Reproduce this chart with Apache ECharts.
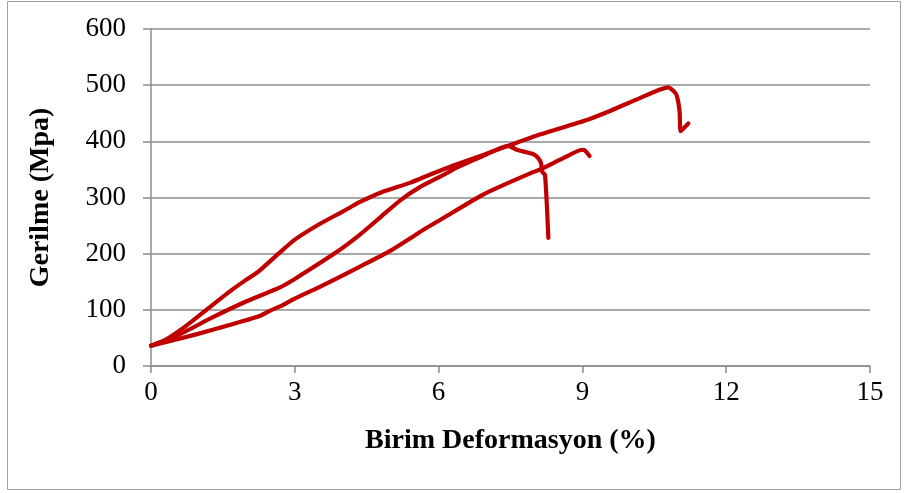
<!DOCTYPE html>
<html><head><meta charset="utf-8">
<script src="https://cdn.jsdelivr.net/npm/echarts@6/dist/echarts.min.js"></script>
<style>html,body{margin:0;padding:0;background:#fff}#c{width:904px;height:493px}</style>
</head><body><div id="c"></div>
<script>
const xAxisTitle = 'Birim Deformasyon (%)';
const yAxisTitle = 'Gerilme (Mpa)';
const xTicks = [0, 3, 6, 9, 12, 15];
const yTicks = [0, 100, 200, 300, 400, 500, 600];

const specimen1 = [[0,36],[0.29,46],[0.71,70],[1.2,103],[1.68,135],[1.96,152],[2.24,168],[2.66,200],[3.0,225],[3.5,252],[4.0,275],[4.36,292],[4.8,309],[5.4,326],[5.8,340],[6.31,357],[6.9,375],[7.42,391],[8.11,412],[9.09,438],[9.6,455],[10.2,477],[10.79,496],[10.95,485],[11.0,470],[11.03,450],[11.05,418],[11.21,432]];
const specimen2 = [[0,36],[0.57,55],[1.27,86],[1.96,114],[2.69,140],[3.0,155],[3.84,201],[4.36,234],[4.8,266],[5.2,295],[5.6,318],[6.03,337],[6.4,354],[6.9,373],[7.45,392],[7.63,385],[7.98,377],[8.08,370],[8.14,360],[8.16,346],[8.22,340],[8.29,228]];
const specimen3 = [[0,36],[0.57,48],[1.27,64],[2.24,88],[2.5,99],[2.69,106],[3.0,120],[3.5,140],[4.36,177],[4.99,205],[5.75,246],[6.03,260],[6.86,302],[7.14,314],[7.91,343],[8.12,350],[8.6,370],[8.99,385],[9.05,384],[9.15,374]];

const red = '#C00000';
const gray = '#8C8C8C';
const font = '"Liberation Serif", "Times New Roman", serif';

function mk(data){
  return {type:'line', data:data, symbol:'none', smooth:0.2, animation:false,
    lineStyle:{color:red, width:4.2, cap:'round', join:'round'}};
}

const chart = echarts.init(document.getElementById('c'), null, {renderer:'canvas'});
chart.setOption({
  animation:false,
  grid:{left:151, right:34, top:29, bottom:127},
  graphic:[{type:'rect', shape:{x:7.5, y:1.5, width:893, height:488}, style:{fill:'none', stroke:'#A0A0A0', lineWidth:1}, z:-1}],
  xAxis:{type:'value', min:xTicks[0], max:xTicks[xTicks.length-1], interval:3,
    name:xAxisTitle, nameLocation:'middle', nameGap:61,
    nameTextStyle:{fontFamily:font, fontWeight:'bold', fontSize:28, color:'#000'},
    axisLine:{lineStyle:{color:gray, width:1.5}},
    axisTick:{show:true, length:7, lineStyle:{color:gray, width:1.5}},
    axisLabel:{fontFamily:font, fontSize:27, color:'#000', margin:13},
    splitLine:{show:false}},
  yAxis:{type:'value', min:yTicks[0], max:yTicks[yTicks.length-1], interval:100,
    name:yAxisTitle, nameLocation:'middle', nameGap:96, nameRotate:90,
    nameTextStyle:{fontFamily:font, fontWeight:'bold', fontSize:28, color:'#000'},
    axisLine:{show:true, lineStyle:{color:gray, width:1.5}},
    axisTick:{show:true, length:8, lineStyle:{color:gray, width:1.5}},
    axisLabel:{fontFamily:font, fontSize:27, color:'#000', margin:25},
    splitLine:{show:true, lineStyle:{color:gray, width:1.5}}},
  series:[mk(specimen1), mk(specimen2), mk(specimen3)]
});
</script>
</body></html>
